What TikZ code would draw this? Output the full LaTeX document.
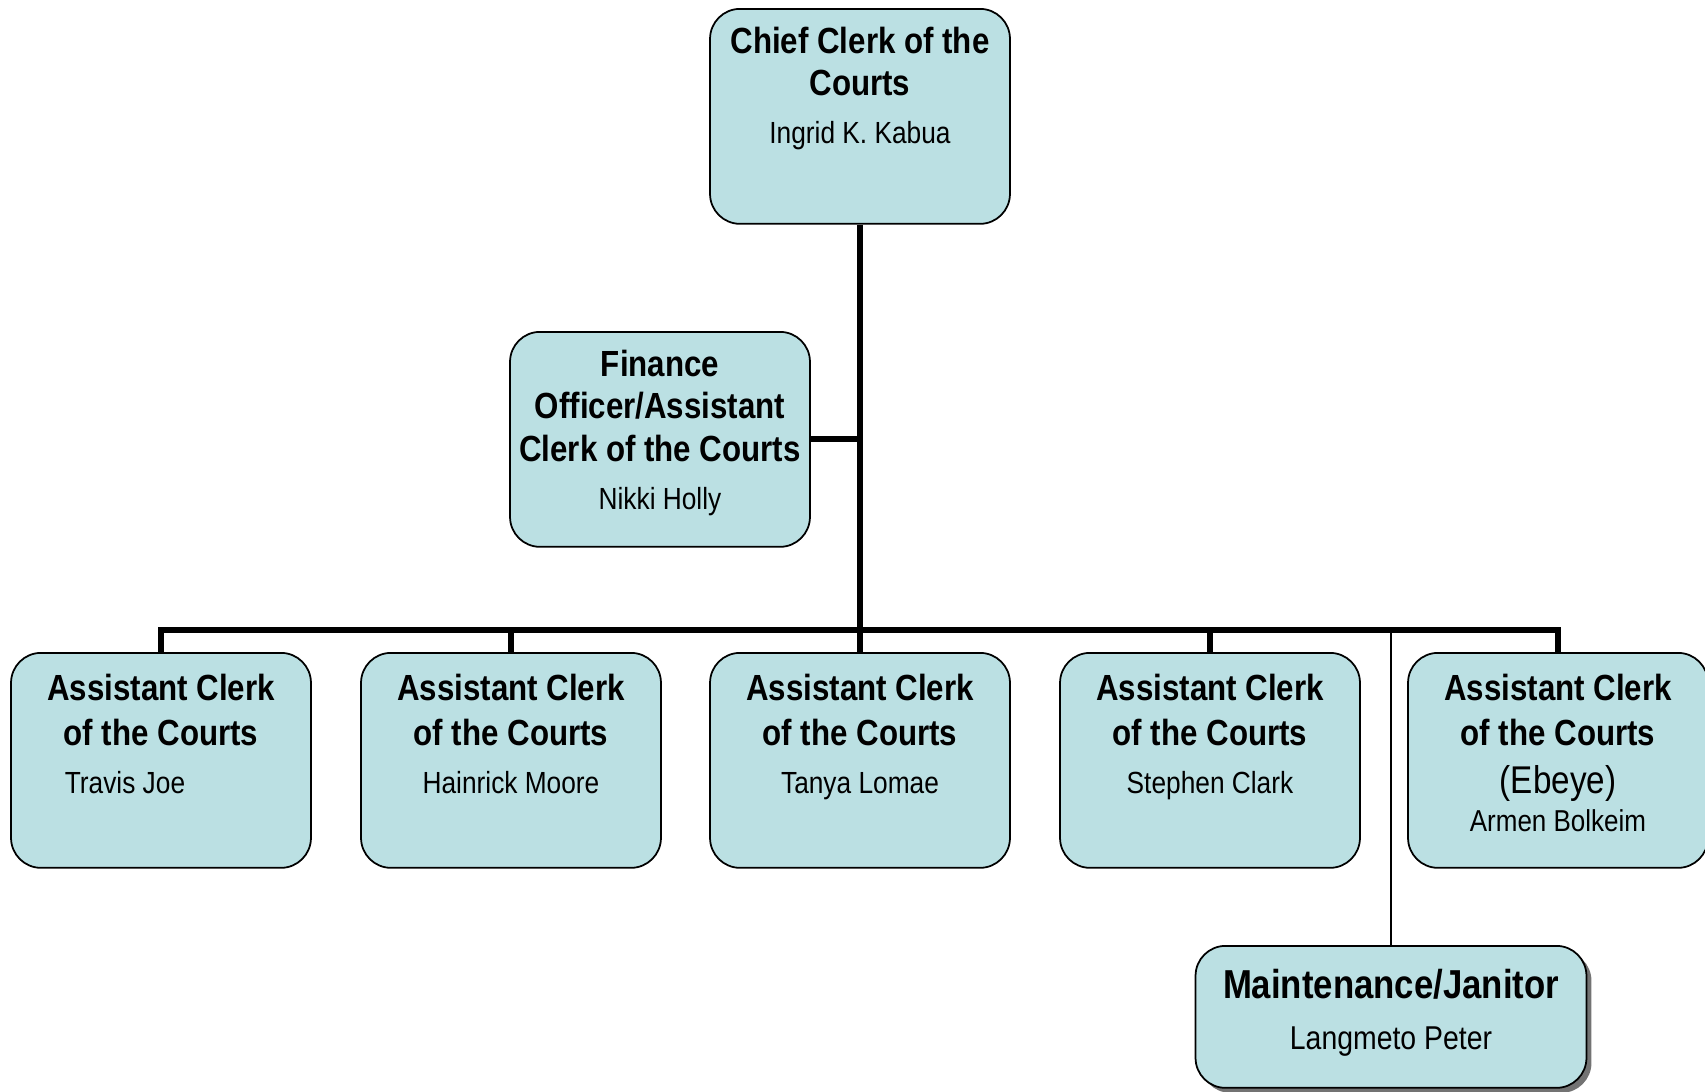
\documentclass[tikz,border=0pt]{standalone}
\usepackage{fontspec}
\setmainfont{Liberation Sans}[FakeStretch=0.86]
\usetikzlibrary{positioning,shadows}

\definecolor{boxfill}{RGB}{187,224,227}
\newcommand\ttlfont{\fontsize{20.7pt}{26pt}\selectfont\bfseries}
\newcommand\tightttl{\fontsize{20.7pt}{24.3pt}\selectfont}
\newcommand\namefont{\fontsize{17.4pt}{27pt}\selectfont}
\newcommand\boxtext[3][0.36cm]{\parbox[c][4.3cm][t]{5.8cm}{\centering\vspace*{#1}{\ttlfont #2\par}{\namefont #3\par}}}

\tikzset{
  orgbox/.style={draw=black, line width=1pt, fill=boxfill, rounded corners=0.6cm,
    inner sep=0pt, minimum width=6cm, minimum height=4.3cm, anchor=north},
  bigline/.style={line width=3.4pt},
  smallline/.style={line width=1pt}
}

\begin{document}
\begin{tikzpicture}[x=0.02cm, y=-0.02cm]
  \useasboundingbox (0,0) rectangle (1705,1092);

  % boxes
  \node[orgbox] (chief) at (860,8) {\boxtext{\tightttl Chief Clerk of the\\Courts}{Ingrid K. Kabua}};
  \node[orgbox, minimum height=4.26cm] (fin) at (660,331) {\boxtext{\tightttl Finance\\Officer/Assistant\\Clerk of the Courts}{Nikki Holly}};
  \node[orgbox] (acA) at (161,652) {\boxtext[0.42cm]{Assistant Clerk\\of the Courts}{Travis Joe\hspace*{1.44cm}}};
  \node[orgbox] (acB) at (511,652) {\boxtext[0.42cm]{Assistant Clerk\\of the Courts}{Hainrick Moore}};
  \node[orgbox] (acC) at (860,652) {\boxtext[0.42cm]{Assistant Clerk\\of the Courts}{Tanya Lomae}};
  \node[orgbox] (acD) at (1210,652) {\boxtext[0.42cm]{Assistant Clerk\\of the Courts}{Stephen Clark}};
  \node[orgbox] (acE) at (1558,652) {\parbox[c][4.3cm][t]{5.8cm}{\centering\vspace*{0.42cm}%
    {\ttlfont Assistant Clerk\\of the Courts\par}%
    {\fontsize{22pt}{27pt}\selectfont (Ebeye)\par}%
    {\fontsize{17.2pt}{21.5pt}\selectfont Armen Bolkeim\par}}};
  \node[orgbox, minimum width=7.82cm, minimum height=2.84cm,
    drop shadow={shadow xshift=0.1cm, shadow yshift=-0.1cm, fill=black!55, opacity=1}] (maint) at (1391,945)
    {\parbox[c][2.84cm][t]{7.6cm}{\centering\vspace*{0.46cm}%
    {\fontsize{23pt}{28pt}\selectfont\bfseries Maintenance/Janitor\par}%
    {\fontsize{18.8pt}{29pt}\selectfont Langmeto Peter\par}}};

  \coordinate (hub) at (860,630);

  % connectors
  \draw[smallline] (maint.north) |- (hub);
  \draw[bigline] (chief.south) -- (hub);
  \draw[bigline] (fin.east) -- (fin.east -| chief.south);
  \draw[bigline] (acA.north) |- (hub);
  \draw[bigline] (acB.north) |- (hub);
  \draw[bigline] (acC.north) -- (hub);
  \draw[bigline] (acD.north) |- (hub);
  \draw[bigline] (acE.north) |- (hub);
\end{tikzpicture}
\end{document}
